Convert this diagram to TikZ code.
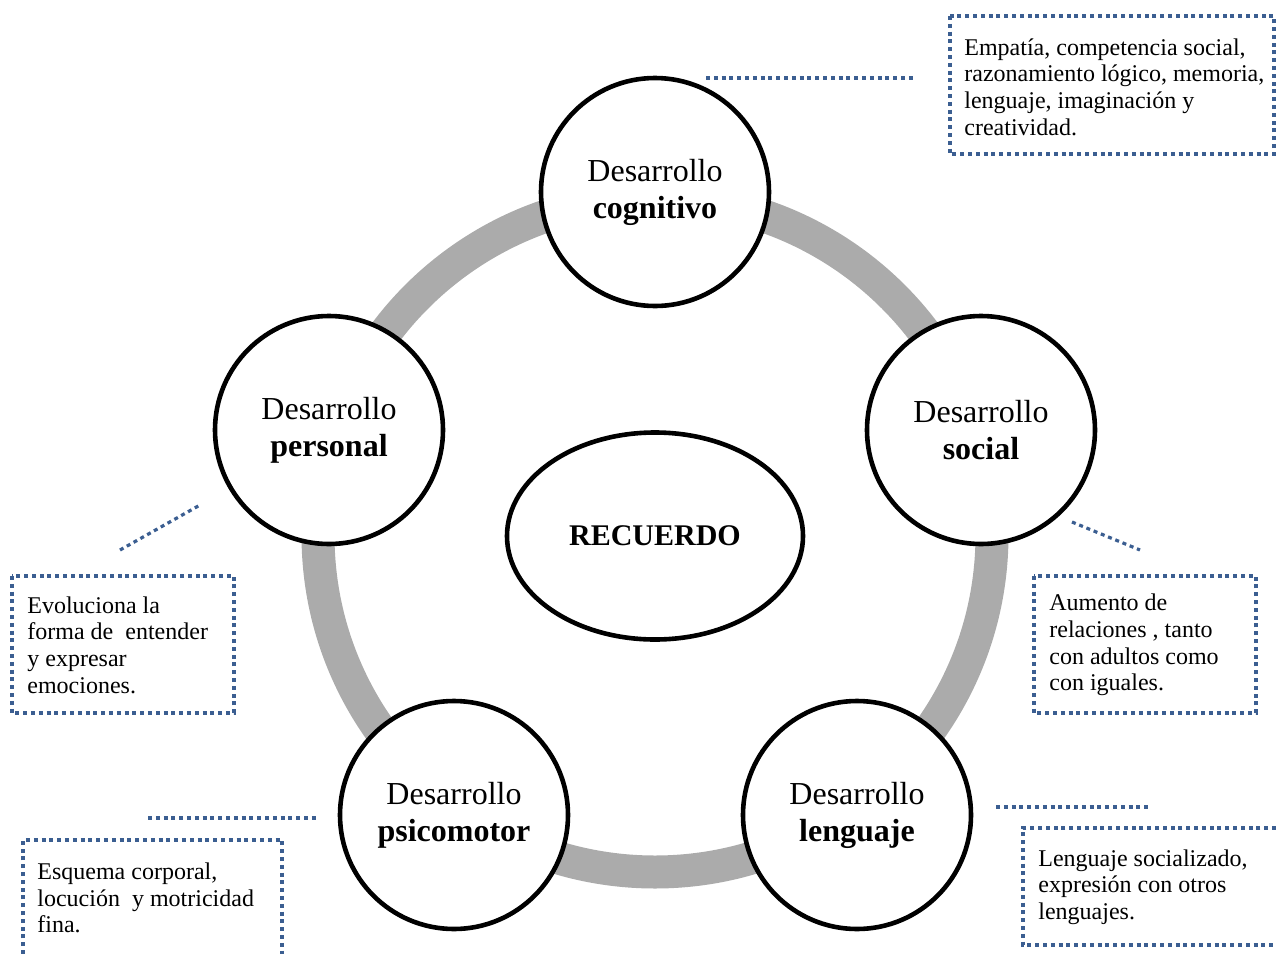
\documentclass[tikz,border=0pt]{standalone}
\usepackage{fontspec}
\setmainfont{Liberation Serif}
\usetikzlibrary{shapes.geometric,shadows}
\definecolor{ringgray}{RGB}{171,171,171}
\definecolor{dotblue}{RGB}{59,94,145}
\tikzset{
  area/.style={circle, draw=black, line width=2.3pt, fill=white, minimum size=114pt,
    inner sep=0pt, align=center, font=\fontsize{16}{18.5}\selectfont,
    drop shadow={opacity=0.25, shadow xshift=0.6pt, shadow yshift=-0.8pt}},
  core/.style={ellipse, draw=black, line width=2.3pt, fill=white, minimum width=148pt,
    minimum height=103.5pt, inner sep=0pt, font=\fontsize{15}{18}\bfseries\selectfont,
    drop shadow={opacity=0.25, shadow xshift=0.6pt, shadow yshift=-0.8pt}},
  note/.style={anchor=west, align=left, inner sep=0pt, font=\fontsize{12}{13.35}\selectfont},
  dotline/.style={draw=dotblue, line width=1.6pt, dash pattern=on 2pt off 1.9pt},
}
\begin{document}
\begin{tikzpicture}[x=0.5pt, y=-0.5pt]
\useasboundingbox (0,0) rectangle (1276,954);

% grey ring joining the five areas
\draw[ringgray, line width=16.5pt] (655,535) circle[radius=337];

% central ellipse and the five areas of development
\node[core] (rec) at (655,536) {RECUERDO};
\node[area] (cog) at (655,192) {Desarrollo\\\textbf{cognitivo}};
\node[area] (per) at (329,430) {Desarrollo\\\textbf{personal}};
\node[area] (soc) at (981,430) {Desarrollo\\\textbf{social}};
\node[area] (psi) at (454,815) {Desarrollo\\\textbf{psicomotor}};
\node[area] (len) at (857,815) {Desarrollo\\\textbf{lenguaje}};

% dotted leader lines
\coordinate (cogA) at (706,78);   \coordinate (cogB) at (916,78);
\coordinate (perA) at (120,550);  \coordinate (perB) at (200,505);
\coordinate (socA) at (1072,522); \coordinate (socB) at (1140,550);
\coordinate (psiA) at (148,818);  \coordinate (psiB) at (318,818);
\coordinate (lenA) at (996,807);  \coordinate (lenB) at (1148,807);
\draw[dotline] (cogA) -- (cogB);
\draw[dotline] (perA) -- (perB);
\draw[dotline] (socA) -- (socB);
\draw[dotline] (psiA) -- (psiB);
\draw[dotline] (lenA) -- (lenB);

% description boxes
\draw[dotline] (950,16) rectangle (1274,154);
\node[note] (tcog) at (964,87) {Empatía, competencia social,\\razonamiento lógico, memoria,\\lenguaje, imaginación y\\creatividad.};

\draw[dotline] (12,576) rectangle (234,713);
\node[note] (tper) at (27,645) {Evoluciona la\\forma de\ \ entender\\y expresar\\emociones.};

\draw[dotline] (1034,576) rectangle (1256,713);
\node[note] (tsoc) at (1049,645) {Aumento de\\relaciones , tanto\\con adultos como\\con iguales.};

\draw[dotline] (23,954) -- (23,840) -- (282,840) -- (282,954);
\node[note] (tpsi) at (37,898) {Esquema corporal,\\locución\ \ y motricidad\\fina.};

\draw[dotline] (1276,828) -- (1023,828) -- (1023,945) -- (1276,945);
\node[note] (tlen) at (1038,887) {Lenguaje socializado,\\expresión con otros\\lenguajes.};
\end{tikzpicture}
\end{document}
